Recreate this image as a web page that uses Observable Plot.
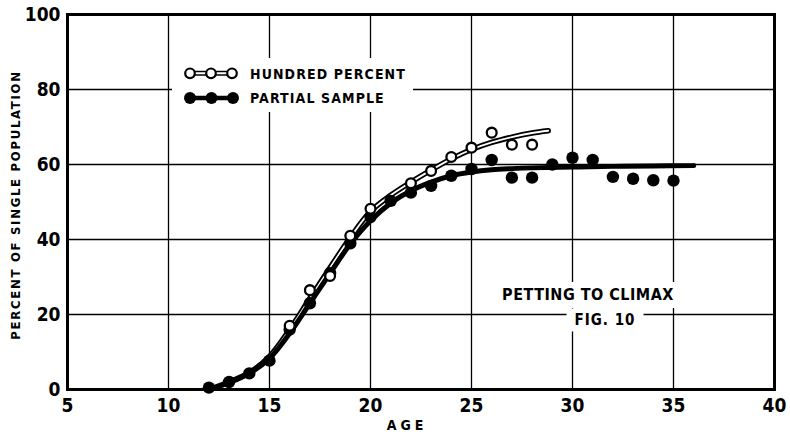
<!DOCTYPE html>
<html><head><meta charset="utf-8">
<script src="https://cdn.jsdelivr.net/npm/d3@7"></script>
<script src="https://cdn.jsdelivr.net/npm/@observablehq/plot@0.6"></script>
<style>
body{margin:0;background:#fff;}
#wrap{position:relative;width:790px;height:435px;overflow:hidden;font-family:"DejaVu Sans",sans-serif;font-stretch:condensed;font-weight:bold;color:#000;}
#chart{position:absolute;left:0;top:0;}
.ov{position:absolute;white-space:nowrap;line-height:1;}
#legend{position:absolute;left:172px;top:58px;width:241px;height:54px;background:#fff;}
#legend svg{position:absolute;left:0;top:0;}
#legend .t{position:absolute;left:78px;font-size:14px;letter-spacing:1.1px;line-height:1;}
#ylab{left:15px;top:205px;transform:translate(-50%,-50%) rotate(-90deg);font-size:13px;letter-spacing:1.7px;}
#xlab{left:407px;top:425px;transform:translate(-50%,-50%);font-size:14px;letter-spacing:4px;}
#title1{left:588px;top:295px;transform:translate(-50%,-50%);font-size:16px;letter-spacing:0.5px;background:#fff;padding:5px 6px;}
#title2{left:605px;top:320px;transform:translate(-50%,-50%);font-size:15px;letter-spacing:1px;background:#fff;padding:4px 8px;}
</style></head><body>
<div id="wrap">
<div id="chart"></div>
<div id="legend">
<svg width="241" height="54">
  <line x1="18" y1="13.5" x2="60" y2="13.5" stroke="#000" stroke-width="1.4"/>
  <line x1="18" y1="17" x2="60" y2="17" stroke="#000" stroke-width="1.4"/>
  <circle cx="18" cy="15.3" r="4.8" fill="#fff" stroke="#000" stroke-width="2.2"/>
  <circle cx="39" cy="15.3" r="4.8" fill="#fff" stroke="#000" stroke-width="2.2"/>
  <circle cx="60" cy="15.3" r="4.8" fill="#fff" stroke="#000" stroke-width="2.2"/>
  <line x1="18" y1="40" x2="61" y2="40" stroke="#000" stroke-width="4.5"/>
  <circle cx="18" cy="40" r="6" fill="#000"/>
  <circle cx="39.5" cy="40" r="6" fill="#000"/>
  <circle cx="61" cy="40" r="6" fill="#000"/>
</svg>
<div class="t" style="top:9px">HUNDRED PERCENT</div>
<div class="t" style="top:33px">PARTIAL SAMPLE</div>
</div>
<div class="ov" id="ylab">PERCENT OF SINGLE POPULATION</div>
<div class="ov" id="xlab">AGE</div>
<div class="ov" id="title1">PETTING TO CLIMAX</div>
<div class="ov" id="title2">FIG. 10</div>
</div>
<script>
// Tick values
const xTicks = [5, 10, 15, 20, 25, 30, 35, 40];
const yTicks = [0, 20, 40, 60, 80, 100];

// Hundred percent (open circles) observations
const ageHundred = [16, 17, 18, 19, 20, 22, 23, 24, 25, 26, 27, 28];
const pctHundred = [17, 26.5, 30.3, 41, 48.2, 55, 58.3, 62, 64.5, 68.5, 65.3, 65.3];

// Partial sample (filled circles) observations
const agePartial = [12, 13, 14, 15, 16, 17, 18, 19, 20, 21, 22, 23, 24, 25, 26, 27, 28, 29, 30, 31, 32, 33, 34, 35];
const pctPartial = [0.5, 2, 4.3, 7.7, 16, 23, 31, 39, 46, 50.3, 52.5, 54.3, 57, 58.8, 61.2, 56.5, 56.5, 60, 61.8, 61.2, 56.7, 56.2, 55.8, 55.7];

// Fitted curve (hundred percent)
const curveAgeHundred = [12, 13, 14, 15, 16, 17, 18, 19, 20, 21, 22, 23, 24, 25, 26, 27, 28, 28.8];
const curvePctHundred = [0, 2, 4.5, 8.8, 16, 24.3, 32.5, 40.5, 47.5, 51.8, 55.3, 58.5, 61.5, 64, 65.9, 67.3, 68.4, 69];

// Fitted curve (partial sample)
const curveAgePartial = [12, 13, 14, 15, 16, 17, 18, 19, 20, 21, 22, 23, 24, 25, 26, 27, 28, 30, 32, 34, 36];
const curvePctPartial = [0, 1.8, 4.3, 8.3, 15, 23, 31, 38.8, 45, 49.7, 53, 55.3, 57, 58, 58.6, 58.9, 59.1, 59.3, 59.5, 59.6, 59.7];

const hundred = ageHundred.map((a, i) => ({age: a, pct: pctHundred[i]}));
const partial = agePartial.map((a, i) => ({age: a, pct: pctPartial[i]}));
const curveH = curveAgeHundred.map((a, i) => ({age: a, pct: curvePctHundred[i]}));
const curveP = curveAgePartial.map((a, i) => ({age: a, pct: curvePctPartial[i]}));

const font = {fontFamily: "DejaVu Sans", fontWeight: "bold"};

const chart = Plot.plot({
  width: 790,
  height: 435,
  marginLeft: 67,
  marginRight: 16,
  marginTop: 14,
  marginBottom: 46,
  style: {fontFamily: "DejaVu Sans", fontStretch: "condensed", fontWeight: "bold", background: "#fff", color: "#000"},
  x: {domain: [5, 40]},
  y: {domain: [0, 100]},
  marks: [
    Plot.gridX(xTicks, {stroke: "#000", strokeOpacity: 1, strokeWidth: 1.3}),
    Plot.gridY(yTicks, {stroke: "#000", strokeOpacity: 1, strokeWidth: 1.3}),
    Plot.frame({stroke: "#000", strokeWidth: 3}),
    Plot.line(curveH, {x: "age", y: "pct", curve: "catmull-rom", stroke: "#000", strokeWidth: 5.5}),
    Plot.line(curveH, {x: "age", y: "pct", curve: "catmull-rom", stroke: "#fff", strokeWidth: 1.8}),
    Plot.line(curveP, {x: "age", y: "pct", curve: "catmull-rom", stroke: "#000", strokeWidth: 5}),
    Plot.dot(partial, {x: "age", y: "pct", r: 6.2, fill: "#000", stroke: "none"}),
    Plot.dot(hundred, {x: "age", y: "pct", r: 4.9, fill: "#fff", stroke: "#000", strokeWidth: 2.3}),
    Plot.axisX(xTicks, {label: null, tickSize: 0, tickPadding: 9, fontSize: 19, ...font}),
    Plot.axisY(yTicks, {label: null, tickSize: 0, tickPadding: 7, fontSize: 19, ...font})
  ]
});
document.getElementById("chart").appendChild(chart);
</script>
</body></html>
